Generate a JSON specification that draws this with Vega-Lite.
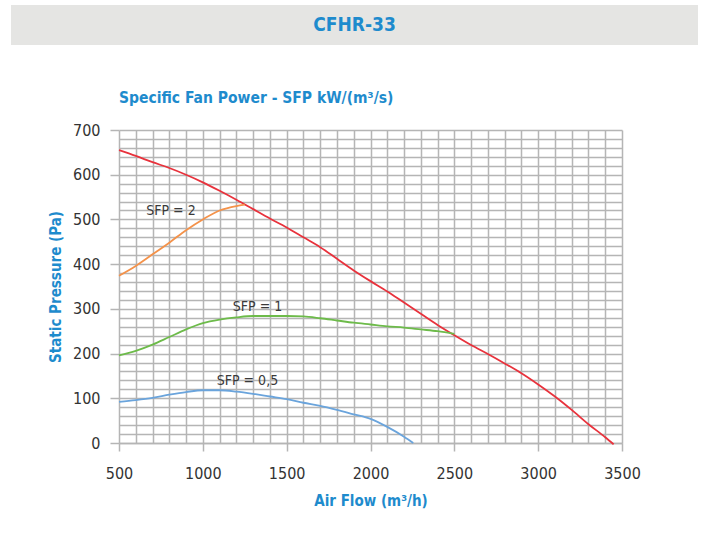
{
  "$schema": "https://vega.github.io/schema/vega-lite/v6.json",
  "background": "white",
  "padding": {"left": 11, "top": 5, "right": 5, "bottom": 5},
  "spacing": 45,
  "config": {"view": {"stroke": null}, "font": "DejaVu Sans Condensed"},
  "datasets": {
    "curves": [
      {"curve": "fan", "flow": 500, "pressure": 655},
      {"curve": "fan", "flow": 600, "pressure": 642},
      {"curve": "fan", "flow": 700, "pressure": 628},
      {"curve": "fan", "flow": 800, "pressure": 615},
      {"curve": "fan", "flow": 900, "pressure": 600},
      {"curve": "fan", "flow": 1000, "pressure": 583},
      {"curve": "fan", "flow": 1100, "pressure": 564},
      {"curve": "fan", "flow": 1200, "pressure": 544},
      {"curve": "fan", "flow": 1300, "pressure": 523},
      {"curve": "fan", "flow": 1400, "pressure": 502},
      {"curve": "fan", "flow": 1500, "pressure": 482},
      {"curve": "fan", "flow": 1600, "pressure": 460},
      {"curve": "fan", "flow": 1700, "pressure": 438},
      {"curve": "fan", "flow": 1800, "pressure": 412},
      {"curve": "fan", "flow": 1900, "pressure": 386},
      {"curve": "fan", "flow": 2000, "pressure": 362},
      {"curve": "fan", "flow": 2100, "pressure": 339},
      {"curve": "fan", "flow": 2200, "pressure": 314},
      {"curve": "fan", "flow": 2300, "pressure": 289},
      {"curve": "fan", "flow": 2400, "pressure": 264},
      {"curve": "fan", "flow": 2500, "pressure": 241},
      {"curve": "fan", "flow": 2600, "pressure": 219},
      {"curve": "fan", "flow": 2700, "pressure": 199},
      {"curve": "fan", "flow": 2800, "pressure": 178},
      {"curve": "fan", "flow": 2900, "pressure": 156},
      {"curve": "fan", "flow": 3000, "pressure": 131},
      {"curve": "fan", "flow": 3100, "pressure": 104},
      {"curve": "fan", "flow": 3200, "pressure": 74},
      {"curve": "fan", "flow": 3300, "pressure": 42},
      {"curve": "fan", "flow": 3400, "pressure": 13},
      {"curve": "fan", "flow": 3450, "pressure": -3},
      {"curve": "sfp2", "flow": 500, "pressure": 374},
      {"curve": "sfp2", "flow": 600, "pressure": 396},
      {"curve": "sfp2", "flow": 700, "pressure": 422},
      {"curve": "sfp2", "flow": 800, "pressure": 448},
      {"curve": "sfp2", "flow": 900, "pressure": 476},
      {"curve": "sfp2", "flow": 1000, "pressure": 500},
      {"curve": "sfp2", "flow": 1100, "pressure": 520},
      {"curve": "sfp2", "flow": 1200, "pressure": 530},
      {"curve": "sfp2", "flow": 1250, "pressure": 533},
      {"curve": "sfp1", "flow": 500, "pressure": 196},
      {"curve": "sfp1", "flow": 600, "pressure": 206},
      {"curve": "sfp1", "flow": 700, "pressure": 220},
      {"curve": "sfp1", "flow": 800, "pressure": 237},
      {"curve": "sfp1", "flow": 900, "pressure": 254},
      {"curve": "sfp1", "flow": 1000, "pressure": 268},
      {"curve": "sfp1", "flow": 1100, "pressure": 276},
      {"curve": "sfp1", "flow": 1200, "pressure": 281},
      {"curve": "sfp1", "flow": 1300, "pressure": 284},
      {"curve": "sfp1", "flow": 1400, "pressure": 284},
      {"curve": "sfp1", "flow": 1500, "pressure": 284},
      {"curve": "sfp1", "flow": 1600, "pressure": 283},
      {"curve": "sfp1", "flow": 1700, "pressure": 279},
      {"curve": "sfp1", "flow": 1800, "pressure": 274},
      {"curve": "sfp1", "flow": 1900, "pressure": 269},
      {"curve": "sfp1", "flow": 2000, "pressure": 265},
      {"curve": "sfp1", "flow": 2100, "pressure": 261},
      {"curve": "sfp1", "flow": 2200, "pressure": 258},
      {"curve": "sfp1", "flow": 2300, "pressure": 254},
      {"curve": "sfp1", "flow": 2400, "pressure": 250},
      {"curve": "sfp1", "flow": 2500, "pressure": 244},
      {"curve": "sfp05", "flow": 500, "pressure": 92},
      {"curve": "sfp05", "flow": 600, "pressure": 96},
      {"curve": "sfp05", "flow": 700, "pressure": 101},
      {"curve": "sfp05", "flow": 800, "pressure": 108},
      {"curve": "sfp05", "flow": 900, "pressure": 114},
      {"curve": "sfp05", "flow": 1000, "pressure": 118},
      {"curve": "sfp05", "flow": 1100, "pressure": 118},
      {"curve": "sfp05", "flow": 1200, "pressure": 115},
      {"curve": "sfp05", "flow": 1300, "pressure": 110},
      {"curve": "sfp05", "flow": 1400, "pressure": 104},
      {"curve": "sfp05", "flow": 1500, "pressure": 98},
      {"curve": "sfp05", "flow": 1600, "pressure": 90},
      {"curve": "sfp05", "flow": 1700, "pressure": 83},
      {"curve": "sfp05", "flow": 1800, "pressure": 74},
      {"curve": "sfp05", "flow": 1900, "pressure": 64},
      {"curve": "sfp05", "flow": 2000, "pressure": 54},
      {"curve": "sfp05", "flow": 2100, "pressure": 36},
      {"curve": "sfp05", "flow": 2200, "pressure": 14},
      {"curve": "sfp05", "flow": 2255, "pressure": 0}
    ],
    "labels": [
      {"label": "SFP = 2", "flow": 810, "pressure": 519},
      {"label": "SFP = 1", "flow": 1326, "pressure": 305},
      {"label": "SFP = 0,5", "flow": 1266, "pressure": 138}
    ]
  },
  "vconcat": [
    {
      "width": 687,
      "height": 40,
      "view": {"fill": "#e5e5e3", "stroke": null},
      "data": {"values": [{"name": "CFHR-33"}]},
      "mark": {"type": "text", "font": "DejaVu Sans Condensed", "fontWeight": "bold", "fontSize": 19, "color": "#1e8bcd", "align": "center", "baseline": "middle"},
      "encoding": {"text": {"field": "name", "type": "nominal"}}
    },
    {
      "spacing": 0,
      "hconcat": [
        {
          "width": 37,
          "height": 10,
          "data": {"values": []},
          "mark": {"type": "point", "opacity": 0},
          "encoding": {}
        },
        {
          "width": 503,
          "height": 313,
          "title": {"text": "Specific Fan Power - SFP kW/(m³/s)", "anchor": "start", "frame": "group", "font": "DejaVu Sans Condensed", "fontSize": 15.5, "fontWeight": "bold", "color": "#1e8bcd", "offset": 16},
          "layer": [
            {
              "data": {"name": "curves"},
              "mark": {"type": "line", "interpolate": "monotone", "strokeWidth": 1.8},
              "encoding": {
                "x": {
                  "field": "flow", "type": "quantitative",
                  "scale": {"domain": [500, 3500], "nice": false, "zero": false},
                  "axis": {
                    "values": [500,600,700,800,900,1000,1100,1200,1300,1400,1500,1600,1700,1800,1900,2000,2100,2200,2300,2400,2500,2600,2700,2800,2900,3000,3100,3200,3300,3400,3500],
                    "tickCount": 1000,
                    "format": "d",
                    "labelExpr": "datum.value % 500 === 0 ? datum.label : ''",
                    "grid": true, "gridColor": "#b5b5b5", "gridWidth": 1.5,
                    "domainColor": "#b5b5b5", "domainWidth": 1.5,
                    "tickColor": "#b5b5b5", "tickWidth": 1.5, "tickSize": 8,
                    "tickOpacity": {"condition": {"test": "datum.value % 500 === 0", "value": 1}, "value": 0},
                    "labelFont": "DejaVu Sans Condensed", "labelFontSize": 16, "labelColor": "#333333", "labelPadding": 14,
                    "labelFlush": false, "labelOverlap": false,
                    "title": "Air Flow (m³/h)", "titleFont": "DejaVu Sans Condensed", "titleFontSize": 15, "titleFontWeight": "bold", "titleColor": "#1e8bcd", "titlePadding": 12
                  }
                },
                "y": {
                  "field": "pressure", "type": "quantitative",
                  "scale": {"domain": [0, 700], "nice": false},
                  "axis": {
                    "values": [0,20,40,60,80,100,120,140,160,180,200,220,240,260,280,300,320,340,360,380,400,420,440,460,480,500,520,540,560,580,600,620,640,660,680,700],
                    "tickCount": 1000,
                    "format": "d",
                    "labelExpr": "datum.value % 100 === 0 ? datum.label : ''",
                    "grid": true, "gridColor": "#b5b5b5", "gridWidth": 1.5,
                    "domain": false,
                    "tickColor": "#b5b5b5", "tickWidth": 1.5, "tickSize": 9,
                    "tickOpacity": {"condition": {"test": "datum.value % 100 === 0", "value": 1}, "value": 0},
                    "labelFont": "DejaVu Sans Condensed", "labelFontSize": 16, "labelColor": "#333333", "labelPadding": 10,
                    "labelFlush": false, "labelOverlap": false,
                    "title": "Static Pressure (Pa)", "titleFont": "DejaVu Sans Condensed", "titleFontSize": 15, "titleFontWeight": "bold", "titleColor": "#1e8bcd", "titlePadding": 9
                  }
                },
                "color": {
                  "field": "curve", "type": "nominal",
                  "scale": {"domain": ["fan", "sfp2", "sfp1", "sfp05"], "range": ["#e8323c", "#f4924a", "#6dbb4a", "#6aa4dc"]},
                  "legend": null
                }
              }
            },
            {
              "data": {"name": "labels"},
              "mark": {"type": "text", "font": "DejaVu Sans Condensed", "fontSize": 14, "color": "#3a3a3a", "align": "center", "baseline": "middle"},
              "encoding": {
                "x": {"field": "flow", "type": "quantitative"},
                "y": {"field": "pressure", "type": "quantitative"},
                "text": {"field": "label", "type": "nominal"}
              }
            }
          ]
        }
      ]
    }
  ]
}
